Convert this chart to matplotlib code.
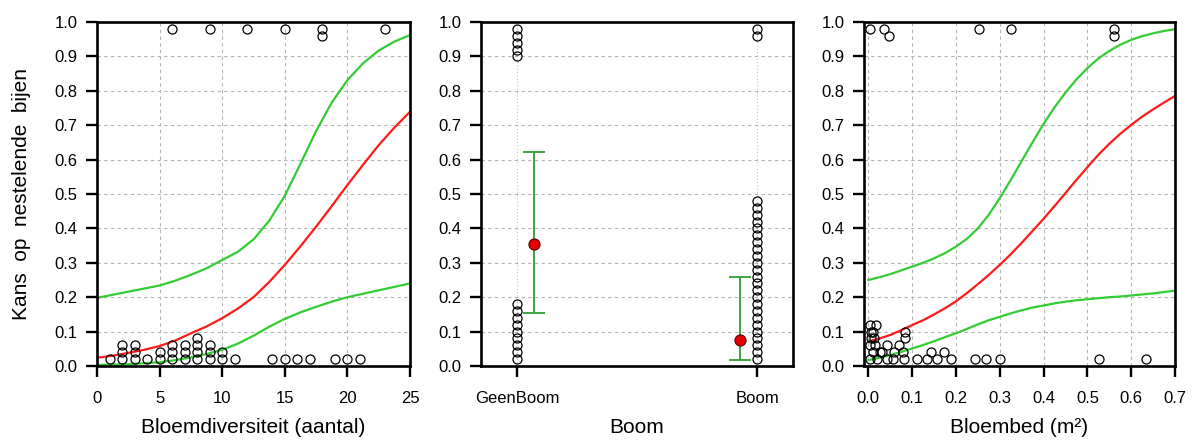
import numpy as np
import matplotlib
matplotlib.use("Agg")
import matplotlib.pyplot as plt

plt.rcParams['font.family'] = ['Liberation Sans', 'DejaVu Sans']

# --- panel 1: bloemdiversiteit ---
div_pts_x = [6, 9, 12, 15, 18, 18, 23,
             1, 2, 2, 2, 3, 3, 3, 4, 5, 5, 6, 6, 6, 7, 7, 7,
             8, 8, 8, 8, 9, 9, 9, 10, 10, 11, 14, 15, 16, 17, 19, 20, 21]
div_pts_y = [0.98, 0.98, 0.98, 0.98, 0.98, 0.96, 0.98,
             0.02, 0.02, 0.04, 0.06, 0.02, 0.04, 0.06, 0.02, 0.02, 0.04,
             0.02, 0.04, 0.06, 0.02, 0.04, 0.06, 0.02, 0.04, 0.06, 0.08,
             0.02, 0.04, 0.06, 0.02, 0.04, 0.02, 0.02, 0.02, 0.02, 0.02,
             0.02, 0.02, 0.02]
div_x = [0, 1.25, 2.5, 3.75, 5, 6.25, 7.5, 8.75, 10, 11.25, 12.5, 13.75, 15,
         16.25, 17.5, 18.75, 20, 21.25, 22.5, 23.75, 25]
div_fit = [0.024, 0.030, 0.038, 0.047, 0.058, 0.074, 0.095, 0.115, 0.139, 0.167,
           0.200, 0.244, 0.294, 0.348, 0.405, 0.465, 0.526, 0.585, 0.642, 0.693, 0.739]
div_upper = [0.198, 0.207, 0.216, 0.225, 0.234, 0.248, 0.265, 0.284, 0.308, 0.332,
             0.368, 0.422, 0.495, 0.588, 0.683, 0.766, 0.831, 0.880, 0.917, 0.943, 0.962]
div_lower = [0.003, 0.004, 0.005, 0.008, 0.011, 0.017, 0.025, 0.035, 0.047, 0.065,
             0.088, 0.114, 0.137, 0.156, 0.172, 0.187, 0.200, 0.210, 0.220, 0.230, 0.240]

# --- panel 2: boom ---
boom_labels = ['GeenBoom', 'Boom']
geen_pts = [0.90, 0.92, 0.94, 0.96, 0.98,
            0.02, 0.04, 0.06, 0.08, 0.10, 0.12, 0.14, 0.16, 0.18]
boom_pts = [0.96, 0.98, 0.02, 0.04, 0.06, 0.08, 0.10, 0.12, 0.14, 0.16, 0.18, 0.20,
            0.22, 0.24, 0.26, 0.28, 0.30, 0.32, 0.34, 0.36, 0.38, 0.40, 0.42, 0.44,
            0.46, 0.48]
boom_fit = [0.355, 0.075]
boom_lo = [0.155, 0.018]
boom_hi = [0.622, 0.258]

# --- panel 3: bloembed ---
bed_pts_x = [0.004, 0.036, 0.046, 0.252, 0.325, 0.561, 0.561,
             0.004, 0.017,
             0.006, 0.011, 0.083,
             0.005, 0.012, 0.083,
             0.004, 0.016, 0.043, 0.071,
             0.010, 0.026, 0.031, 0.058, 0.080, 0.142, 0.173,
             0.004, 0.020, 0.043, 0.057, 0.081, 0.112, 0.133, 0.157, 0.188,
             0.243, 0.268, 0.300, 0.526, 0.633]
bed_pts_y = [0.98, 0.98, 0.96, 0.98, 0.98, 0.98, 0.96,
             0.12, 0.12,
             0.10, 0.10, 0.10,
             0.08, 0.08, 0.08,
             0.06, 0.06, 0.06, 0.06,
             0.04, 0.04, 0.04, 0.04, 0.04, 0.04, 0.04,
             0.02, 0.02, 0.02, 0.02, 0.02, 0.02, 0.02, 0.02, 0.02,
             0.02, 0.02, 0.02, 0.02, 0.02]
bed_x = [0, 0.025, 0.05, 0.075, 0.1, 0.125, 0.15, 0.175, 0.2, 0.225, 0.25, 0.275,
         0.3, 0.325, 0.35, 0.375, 0.4, 0.425, 0.45, 0.475, 0.5, 0.525, 0.55, 0.575,
         0.6, 0.625, 0.65, 0.675, 0.7]
bed_fit = [0.071, 0.080, 0.090, 0.104, 0.119, 0.133, 0.150, 0.168, 0.188, 0.212,
           0.238, 0.265, 0.294, 0.325, 0.358, 0.393, 0.428, 0.465, 0.503, 0.541,
           0.578, 0.614, 0.646, 0.675, 0.701, 0.725, 0.746, 0.766, 0.785]
bed_upper = [0.250, 0.258, 0.267, 0.278, 0.289, 0.300, 0.313, 0.328, 0.347, 0.370,
             0.400, 0.440, 0.488, 0.541, 0.596, 0.651, 0.704, 0.752, 0.795, 0.833,
             0.866, 0.894, 0.916, 0.934, 0.948, 0.959, 0.967, 0.974, 0.979]
bed_lower = [0.017, 0.024, 0.032, 0.041, 0.051, 0.061, 0.072, 0.084, 0.095, 0.108,
             0.121, 0.133, 0.143, 0.153, 0.162, 0.170, 0.176, 0.182, 0.187, 0.191,
             0.194, 0.197, 0.200, 0.202, 0.205, 0.208, 0.211, 0.215, 0.219]

red = '#ff1a1a'
green = '#33cc33'
grid_kw = dict(color='#b4b4b4', linestyle=(0, (3, 3)), linewidth=0.8)
pt_kw = dict(linestyle='none', marker='o', markersize=6.5, markerfacecolor='none',
             markeredgecolor='black', markeredgewidth=0.9, zorder=3)
yticks = [0.0, 0.1, 0.2, 0.3, 0.4, 0.5, 0.6, 0.7, 0.8, 0.9, 1.0]


def style_axes(ax):
    for s in ax.spines.values():
        s.set_linewidth(1.9)
    ax.tick_params(direction='out', length=8, width=1.7, labelsize=12, pad=6)
    ax.tick_params(axis='x', pad=10)
    ax.set_ylim(0, 1)
    ax.set_yticks(yticks)
    ax.set_yticklabels([f'{v:.1f}' for v in yticks])
    ax.set_axisbelow(True)


fig = plt.figure(figsize=(11.95, 4.4), dpi=100)
ax1 = fig.add_axes([0.0812, 0.1682, 0.2619, 0.7818])
ax2 = fig.add_axes([0.4025, 0.1682, 0.2611, 0.7818])
ax3 = fig.add_axes([0.7230, 0.1682, 0.2603, 0.7818])

# panel 1
style_axes(ax1)
ax1.set_xlim(0, 25)
ax1.set_xticks([0, 5, 10, 15, 20, 25])
ax1.grid(True, **grid_kw)
ax1.plot(div_x, div_upper, color=green, lw=1.6, zorder=2)
ax1.plot(div_x, div_lower, color=green, lw=1.6, zorder=2)
ax1.plot(div_x, div_fit, color=red, lw=1.6, zorder=2)
ax1.plot(div_pts_x, div_pts_y, **pt_kw)
ax1.set_xlabel('Bloemdiversiteit (aantal)', fontsize=15, labelpad=9)
ax1.set_ylabel('Kans  op  nestelende  bijen', fontsize=15, labelpad=17)

# panel 2
style_axes(ax2)
ax2.set_xlim(0.85, 2.15)
ax2.set_xticks([1, 2])
ax2.set_xticklabels(boom_labels)
ax2.grid(True, axis='y', **grid_kw)
ax2.grid(True, axis='x', color='#c4c4c4', linestyle=(0, (1, 2)), linewidth=0.8)
ax2.plot([1] * len(geen_pts), geen_pts, **pt_kw)
ax2.plot([2] * len(boom_pts), boom_pts, **pt_kw)
pos = [1.07, 1.93]
err = [np.array(boom_fit) - np.array(boom_lo), np.array(boom_hi) - np.array(boom_fit)]
ax2.errorbar(pos, boom_fit, yerr=err, fmt='none', ecolor='#2e9e35', elinewidth=1.3,
             capsize=8, capthick=1.3, zorder=4)
ax2.plot(pos, boom_fit, linestyle='none', marker='o', markersize=8,
         markerfacecolor='#e00000', markeredgecolor='#600000', markeredgewidth=0.8, zorder=5)
ax2.set_xlabel('Boom', fontsize=15, labelpad=9)

# panel 3
style_axes(ax3)
ax3.set_xlim(-0.01, 0.7)
xt3 = [0.0, 0.1, 0.2, 0.3, 0.4, 0.5, 0.6, 0.7]
ax3.set_xticks(xt3)
ax3.set_xticklabels([f'{v:.1f}' for v in xt3])
ax3.grid(True, **grid_kw)
ax3.plot(bed_x, bed_upper, color=green, lw=1.6, zorder=2)
ax3.plot(bed_x, bed_lower, color=green, lw=1.6, zorder=2)
ax3.plot(bed_x, bed_fit, color=red, lw=1.6, zorder=2)
ax3.plot(bed_pts_x, bed_pts_y, **pt_kw)
ax3.set_xlabel('Bloembed (m²)', fontsize=15, labelpad=9)

fig.savefig('out.png', dpi=100)
